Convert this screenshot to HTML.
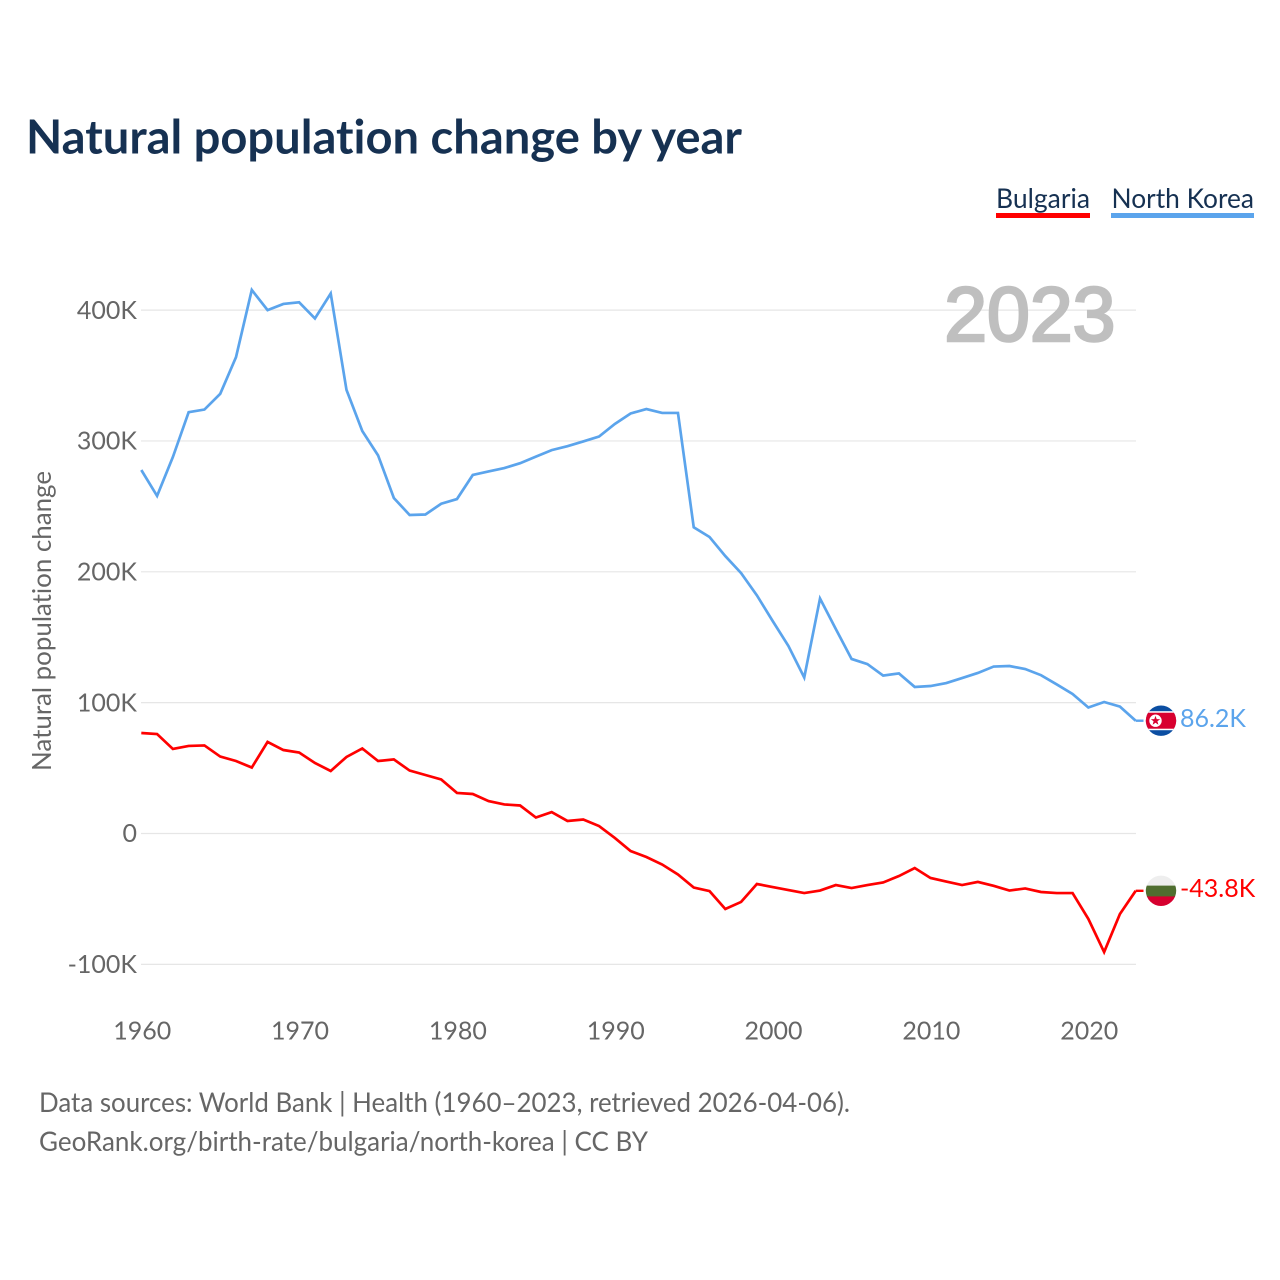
<!DOCTYPE html>
<html lang="en">
<head>
<meta charset="utf-8">
<title>Natural population change by year</title>
<style>
html,body{margin:0;padding:0;background:#fff;width:1280px;height:1280px;overflow:hidden}
svg{display:block}
text{font-family:"Lato","Carlito","Liberation Sans",sans-serif;font-variant-ligatures:none}
</style>
</head>
<body>
<svg id="chart" xmlns="http://www.w3.org/2000/svg" width="1280" height="1280" viewBox="0 0 1280 1280">
  <defs>
    <clipPath id="flag-clip"><circle cx="0" cy="0" r="15.2"></circle></clipPath>
  </defs>
  <rect x="0" y="0" width="1280" height="1280" fill="#ffffff"></rect>
  <text x="26" y="153.5" font-size="47" font-weight="700" fill="#163152" textLength="716" lengthAdjust="spacingAndGlyphs">Natural population change by year</text>
  <g>
    <g>
      <text x="996" y="208" font-size="27.5" fill="#163152" textLength="94" lengthAdjust="spacingAndGlyphs">Bulgaria</text>
      <rect x="996" y="213" width="94" height="5" fill="#ff0000"></rect>
    </g>
    <g>
      <text x="1111.5" y="208" font-size="27.5" fill="#163152" textLength="142.5" lengthAdjust="spacingAndGlyphs">North Korea</text>
      <rect x="1111" y="213" width="143" height="5" fill="#5ba4ec"></rect>
    </g>
  </g>
  <g id="grid"></g>
  <text x="1115.5" y="341" text-anchor="end" font-size="77" font-weight="400" fill="#bfbfbf" stroke="#bfbfbf" stroke-width="2.6" style="font-family:'Liberation Sans',sans-serif">2023</text>
  <g id="y-axis"></g>
  <g id="x-axis"></g>
  <text transform="translate(51 621) rotate(-90)" text-anchor="middle" font-size="26" fill="#666666" textLength="300" lengthAdjust="spacingAndGlyphs">Natural population change</text>
  <g id="series"></g>
  <g id="end-markers"></g>
  <g>
    <text x="39" y="1112" font-size="27" fill="#666666" textLength="811" lengthAdjust="spacingAndGlyphs">Data sources: World Bank | Health (1960–2023, retrieved 2026-04-06).</text>
    <text x="39" y="1151" font-size="27" fill="#666666" textLength="609" lengthAdjust="spacingAndGlyphs">GeoRank.org/birth-rate/bulgaria/north-korea | CC BY</text>
  </g>
</svg>
<script>
const years = [1960,1961,1962,1963,1964,1965,1966,1967,1968,1969,1970,1971,1972,1973,1974,1975,1976,1977,1978,1979,1980,1981,1982,1983,1984,1985,1986,1987,1988,1989,1990,1991,1992,1993,1994,1995,1996,1997,1998,1999,2000,2001,2002,2003,2004,2005,2006,2007,2008,2009,2010,2011,2012,2013,2014,2015,2016,2017,2018,2019,2020,2021,2022,2023];
const northKorea = [277.8,258,287.7,322,324,336,364,415.4,400,404.7,406,393.6,412.7,339,307.6,289,256.4,243.4,243.8,252,255.6,274,276.7,279.3,283,288,293,296,299.6,303.4,313,321,324.4,321.4,321.4,234,226.6,212,199,182,162.4,143.3,119.2,179.6,156.3,133.4,129.5,120.7,122.3,112,112.7,115,118.8,122.7,127.6,128,125.7,121,113.9,106.6,96.3,100.5,97,86.2];
const bulgaria = [76.8,76,64.6,66.9,67.3,58.8,55.4,50.4,70,63.8,61.9,53.9,47.8,58.5,65,55.4,56.6,48.1,44.7,41.3,31,30.2,24.8,22.2,21.4,12.2,16.4,9.6,10.7,5.7,-3.4,-13.4,-18,-23.7,-31.3,-41.3,-44,-57.7,-52.3,-38.6,-40.9,-43.2,-45.5,-43.6,-39.4,-41.7,-39.4,-37.4,-32.5,-26.4,-34,-36.7,-39.4,-37,-40,-43.6,-42,-44.7,-45.5,-45.5,-65.3,-90.6,-61.5,-43.8];
const yTicks = [-100,0,100,200,300,400];
const yTickLabels = ['-100K','0','100K','200K','300K','400K'];
const xTicks = [1960,1970,1980,1990,2000,2010,2020];
const xTickLabels = ['1960','1970','1980','1990','2000','2010','2020'];
const endLabels = ['86.2K','-43.8K'];

const NS = 'http://www.w3.org/2000/svg';
const plotLeft = 141.3, plotRight = 1135.7, yZero = 833.5, yPerUnit = 1.3085;
function xScale(year) {
  return plotLeft + (year - years[0]) / (years[years.length - 1] - years[0]) * (plotRight - plotLeft);
}
function yScale(value) {
  return yZero - value * yPerUnit;
}
function make(tag, attrs, parent, content) {
  const el = document.createElementNS(NS, tag);
  for (const k in attrs) el.setAttribute(k, attrs[k]);
  if (content !== undefined) el.textContent = content;
  parent.appendChild(el);
  return el;
}

const grid = document.getElementById('grid');
const yAxis = document.getElementById('y-axis');
const xAxis = document.getElementById('x-axis');
const seriesGroup = document.getElementById('series');
const markers = document.getElementById('end-markers');

yTicks.forEach(function (tick, i) {
  const line = make('line', {x1: 141, x2: 1136, y1: yScale(tick), y2: yScale(tick), stroke: '#e6e6e6', 'stroke-width': 1.2}, grid);
  
  
  const label = make('text', {x: 137, y: yScale(tick) + 8.7, 'text-anchor': 'end', 'font-size': 25, fill: '#666666'}, yAxis, yTickLabels[i]);
  
  
});

xTicks.forEach(function (tick, i) {
  const label = make('text', {x: xScale(tick) + 0.9, y: 1039.7, 'text-anchor': 'middle', 'font-size': 25, fill: '#666666'}, xAxis, xTickLabels[i]);
  
  
});

function linePath(values) {
  return values.map(function (v, i) {
    return (i ? 'L' : 'M') + xScale(years[i]).toFixed(2) + ' ' + yScale(v).toFixed(2);
  }).join(' ');
}

const bulgariaLine = make('path', {d: linePath(bulgaria), fill: 'none', stroke: '#ff0000', 'stroke-width': 2.7, 'stroke-linejoin': 'miter'}, seriesGroup);


const koreaLine = make('path', {d: linePath(northKorea), fill: 'none', stroke: '#5ba4ec', 'stroke-width': 2.7, 'stroke-linejoin': 'miter'}, seriesGroup);



const koreaEndY = yScale(northKorea[northKorea.length - 1]);
const bulgariaEndY = yScale(bulgaria[bulgaria.length - 1]);

const koreaLead = make('line', {x1: plotRight, x2: 1143.5, y1: koreaEndY, y2: koreaEndY, stroke: '#5ba4ec', 'stroke-width': 2.4}, markers);


const bulgariaLead = make('line', {x1: plotRight, x2: 1143.5, y1: bulgariaEndY, y2: bulgariaEndY, stroke: '#ff0000', 'stroke-width': 2.4}, markers);



const koreaFlag = make('g', {transform: 'translate(1161 ' + koreaEndY + ')', 'clip-path': 'url(#flag-clip)'}, markers);


make('rect', {x: -16, y: -16, width: 32, height: 32, fill: '#0b4ea2'}, koreaFlag);
make('rect', {x: -16, y: -9.5, width: 32, height: 19, fill: '#ffffff'}, koreaFlag);
make('rect', {x: -16, y: -8, width: 32, height: 16, fill: '#d8002f'}, koreaFlag);
make('circle', {cx: -5.5, cy: 0, r: 6.2, fill: '#ffffff'}, koreaFlag);
make('polygon', {points: '-5.5,-5 -4.3,-1.6 -0.8,-1.5 -3.6,0.6 -2.6,4 -5.5,2 -8.4,4 -7.4,0.6 -10.2,-1.5 -6.7,-1.6', fill: '#d8002f'}, koreaFlag);

const bulgariaFlag = make('g', {transform: 'translate(1161 ' + bulgariaEndY + ')', 'clip-path': 'url(#flag-clip)'}, markers);


make('rect', {x: -16, y: -16, width: 32, height: 11, fill: '#eeeeee'}, bulgariaFlag);
make('rect', {x: -16, y: -5.2, width: 32, height: 11, fill: '#4f6e2f'}, bulgariaFlag);
make('rect', {x: -16, y: 5.6, width: 32, height: 11, fill: '#d6002f'}, bulgariaFlag);

const koreaValue = make('text', {x: 1180, y: koreaEndY + 6.2, 'font-size': 25, fill: '#5ba4ec'}, markers, endLabels[0]);


const bulgariaValue = make('text', {x: 1180, y: bulgariaEndY + 6.2, 'font-size': 25, fill: '#ff0000'}, markers, endLabels[1]);


</script>
</body>
</html>
